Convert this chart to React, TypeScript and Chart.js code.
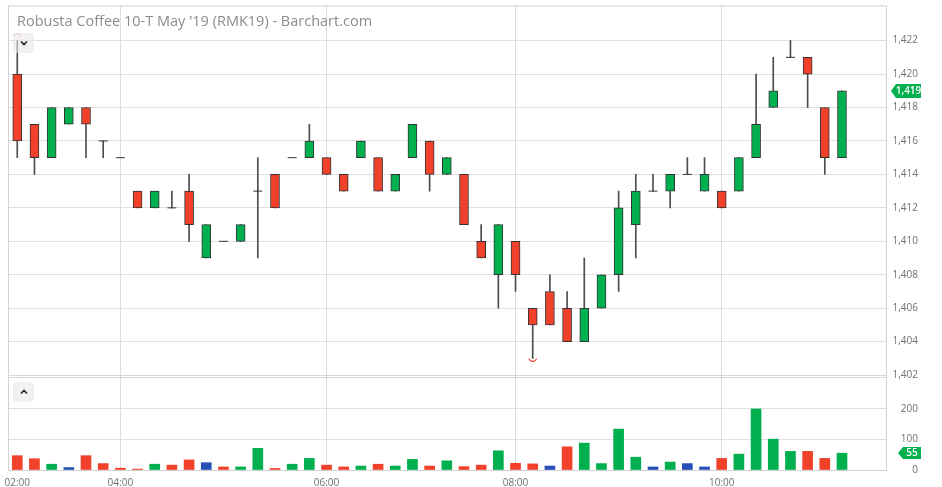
import React, { useEffect, useRef } from "react";
import { Chart, registerables } from "chart.js";

Chart.register(...registerables);

const TITLE = "Robusta Coffee 10-T May '19 (RMK19) - Barchart.com";

const OPEN = [1420, 1417, 1415, 1417, 1418, 1416, 1415, 1413, 1412, 1412, 1413, 1409, 1410, 1410, 1413, 1414, 1415, 1415, 1415, 1414, 1415, 1415, 1413, 1415, 1416, 1414, 1414, 1410, 1408, 1410, 1406, 1407, 1406, 1404, 1406, 1408, 1411, 1413, 1413, 1414, 1413, 1413, 1413, 1415, 1418, 1421, 1421, 1418, 1415];
const HIGH = [1422, 1417, 1418, 1418, 1418, 1416, 1415, 1413, 1413, 1413, 1414, 1411, 1410, 1411, 1415, 1414, 1415, 1417, 1415, 1414, 1416, 1415, 1414, 1417, 1416, 1415, 1414, 1411, 1411, 1410, 1406, 1408, 1407, 1409, 1408, 1413, 1414, 1414, 1414, 1415, 1415, 1413, 1415, 1420, 1421, 1422, 1421, 1418, 1419];
const LOW = [1415, 1414, 1415, 1417, 1415, 1415, 1415, 1412, 1412, 1412, 1410, 1409, 1410, 1410, 1409, 1412, 1415, 1415, 1414, 1413, 1415, 1413, 1413, 1415, 1413, 1414, 1411, 1409, 1406, 1407, 1403, 1405, 1404, 1404, 1406, 1407, 1409, 1413, 1412, 1414, 1413, 1412, 1413, 1415, 1418, 1421, 1418, 1414, 1415];
const CLOSE = [1416, 1415, 1418, 1418, 1417, 1416, 1415, 1412, 1413, 1412, 1411, 1411, 1410, 1411, 1413, 1412, 1415, 1416, 1414, 1413, 1416, 1413, 1414, 1417, 1414, 1415, 1411, 1409, 1411, 1408, 1405, 1405, 1404, 1406, 1408, 1412, 1413, 1413, 1414, 1414, 1414, 1412, 1415, 1417, 1419, 1421, 1420, 1415, 1419];
const VOLUME = [47, 37, 19, 8, 47, 21, 6, 3, 19, 16, 33, 24, 10, 10, 71, 5, 19, 38, 16, 10, 13, 19, 13, 35, 13, 30, 11, 16, 63, 22, 20, 13, 76, 88, 21, 134, 42, 10, 26, 21, 10, 38, 52, 200, 101, 61, 61, 38, 55];
const PREV_SESSION_CLOSE = 1417;

const TIME_TICK_INDEX = [0, 6, 18, 29, 41];
const TIME_TICK_LABELS = ["02:00", "04:00", "06:00", "08:00", "10:00"];
const PRICE_TICKS = [1402, 1404, 1406, 1408, 1410, 1412, 1414, 1416, 1418, 1420, 1422];
const VOLUME_TICKS = [0, 100, 200];

const PRICE_MIN = 1402;
const PRICE_MAX = 1424.1;
const VOLUME_MAX = 311;
const X_MIN = -0.54;
const X_MAX = 50.62;

const UP = "#00b04f";
const DOWN = "#f1412a";
const FLAT = "#2550b8";
const EDGE = "#333333";
const WICK = "#4d4d4d";
const GRID = "#e0e0e0";
const FRAME = "#d2d2d2";
const LABEL = "#707070";
const FONT = '"Open Sans", sans-serif';

const fmt = (v: number) => v.toLocaleString("en-US");

const noPad = (s: any) => {
  s.paddingTop = 0;
  s.paddingBottom = 0;
  s.paddingLeft = 0;
  s.paddingRight = 0;
};

const overlayPlugin = {
  id: "overlay",
  afterDraw(chart: any) {
    const { ctx, chartArea } = chart;
    const ys = chart.scales.y;
    const yv = chart.scales.yv;
    const xs = chart.scales.x;
    ctx.save();
    // frame
    ctx.strokeStyle = FRAME;
    ctx.lineWidth = 1;
    ctx.strokeRect(chartArea.left + 0.5, chartArea.top + 0.5, chartArea.right - chartArea.left - 1, chartArea.bottom - chartArea.top);
    // panel separator
    const sep = Math.round(ys.bottom);
    ctx.strokeStyle = "#d8d8d8";
    ctx.beginPath();
    ctx.moveTo(chartArea.left, sep + 0.5);
    ctx.lineTo(chartArea.right, sep + 0.5);
    ctx.moveTo(chartArea.left, sep + 2.5);
    ctx.lineTo(chartArea.right, sep + 2.5);
    ctx.stroke();

    // title
    ctx.fillStyle = "#8c8c8c";
    ctx.font = `14.5px ${FONT}`;
    ctx.textAlign = "left";
    ctx.textBaseline = "alphabetic";
    ctx.fillText(TITLE, 17, 26);

    // high / low markers
    let hi = 0, lo = 0;
    HIGH.forEach((v, i) => { if (v > HIGH[hi]) hi = i; });
    LOW.forEach((v, i) => { if (v < LOW[lo]) lo = i; });
    ctx.strokeStyle = "rgba(241,65,42,0.4)";
    ctx.lineWidth = 1.2;
    ctx.beginPath();
    ctx.arc(xs.getPixelForValue(hi), ys.getPixelForValue(HIGH[hi]) - 3, 4, Math.PI * 1.1, Math.PI * 1.9);
    ctx.stroke();
    ctx.strokeStyle = "#f1412a";
    ctx.beginPath();
    ctx.arc(xs.getPixelForValue(lo), ys.getPixelForValue(LOW[lo]) - 1, 4, Math.PI * 0.1, Math.PI * 0.9);
    ctx.stroke();

    // last price tag
    const n = CLOSE.length;
    const last = CLOSE[n - 1];
    const py = Math.round(ys.getPixelForValue(last));
    ctx.fillStyle = last >= CLOSE[n - 2] ? UP : DOWN;
    ctx.beginPath();
    ctx.moveTo(891, py);
    ctx.lineTo(896, py - 7);
    ctx.lineTo(921, py - 7);
    ctx.lineTo(921, py + 7);
    ctx.lineTo(896, py + 7);
    ctx.closePath();
    ctx.fill();
    ctx.fillStyle = "#ffffff";
    ctx.font = `600 10px ${FONT}`;
    ctx.textAlign = "center";
    ctx.textBaseline = "middle";
    ctx.fillText(fmt(last), 908.5, py + 0.5);

    // last volume tag
    const lv = VOLUME[n - 1];
    const vy = Math.round(yv.getPixelForValue(lv));
    ctx.fillStyle = UP;
    ctx.beginPath();
    ctx.moveTo(898, vy);
    ctx.lineTo(903, vy - 6);
    ctx.lineTo(921, vy - 6);
    ctx.lineTo(921, vy + 6);
    ctx.lineTo(903, vy + 6);
    ctx.closePath();
    ctx.fill();
    ctx.fillStyle = "#ffffff";
    ctx.fillText(String(lv), 912, vy + 0.5);
    ctx.restore();
  },
};

function Chevron({ up }: { up?: boolean }) {
  return (
    <svg width="8" height="6" viewBox="0 0 8 6" style={{ display: "block" }}>
      <path d={up ? "M1 4.5 L4 1.5 L7 4.5" : "M1 1.5 L4 4.5 L7 1.5"} fill="none" stroke="#222" strokeWidth="1.6" />
    </svg>
  );
}

const btnStyle: React.CSSProperties = {
  position: "absolute",
  left: 13,
  width: 21,
  height: 20,
  borderRadius: 3,
  background: "rgba(232,232,232,0.6)",
  display: "flex",
  alignItems: "center",
  justifyContent: "center",
};

export default function App() {
  const ref = useRef<HTMLCanvasElement | null>(null);

  useEffect(() => {
    if (!ref.current) return;
    Chart.defaults.font.family = FONT;
    const idx = OPEN.map((_, i) => i);

    const wickData = idx.filter(i => HIGH[i] > LOW[i]).map(i => ({ x: i, y: [LOW[i], HIGH[i]] }));
    const bodyIdx = idx.filter(i => OPEN[i] !== CLOSE[i]);
    const bodyData = bodyIdx.map(i => ({ x: i, y: [Math.min(OPEN[i], CLOSE[i]), Math.max(OPEN[i], CLOSE[i])] }));
    const bodyColors = bodyIdx.map(i => (CLOSE[i] > OPEN[i] ? UP : DOWN));
    const dojiData = idx.filter(i => OPEN[i] === CLOSE[i]).map(i => ({ x: i, y: OPEN[i] }));
    const volData = idx.map(i => ({ x: i, y: VOLUME[i] }));
    const volColors = idx.map(i => {
      const prev = i === 0 ? PREV_SESSION_CLOSE : CLOSE[i - 1];
      return CLOSE[i] > prev ? UP : CLOSE[i] < prev ? DOWN : FLAT;
    });

    const chart = new Chart(ref.current, {
      type: "bar",
      data: {
        datasets: [
          {
            type: "bar",
            data: volData as any,
            xAxisID: "x",
            yAxisID: "yv",
            backgroundColor: volColors,
            barThickness: 10,
            grouped: false,
            order: 4,
          } as any,
          {
            type: "bar",
            data: wickData as any,
            xAxisID: "x",
            yAxisID: "y",
            backgroundColor: WICK,
            barThickness: 1,
            grouped: false,
            order: 3,
          } as any,
          {
            type: "bar",
            data: bodyData as any,
            xAxisID: "x",
            yAxisID: "y",
            backgroundColor: bodyColors,
            borderColor: EDGE,
            borderWidth: 1,
            borderSkipped: false,
            barThickness: 9,
            grouped: false,
            order: 2,
          } as any,
          {
            type: "line",
            data: dojiData as any,
            xAxisID: "x",
            yAxisID: "y",
            showLine: false,
            pointStyle: "line",
            pointRadius: 4.5,
            pointBorderColor: EDGE,
            pointBorderWidth: 1,
            order: 1,
          } as any,
        ],
      },
      options: {
        responsive: false,
        animation: false,
        devicePixelRatio: 1,
        layout: { padding: { left: 8, top: 5, right: 24, bottom: 0 } },
        plugins: { legend: { display: false }, tooltip: { enabled: false } },
        scales: {
          x: {
            type: "linear",
            min: X_MIN,
            max: X_MAX,
            offset: false,
            grid: {
              offset: false,
              drawTicks: false,
              color: (c: any) => (c.index === 0 ? "rgba(0,0,0,0)" : "#dcdcdc"),
            },
            border: { display: false },
            afterBuildTicks: (s: any) => {
              s.ticks = TIME_TICK_INDEX.map(v => ({ value: v }));
            },
            afterFit: (s: any) => {
              s.height = 17;
              noPad(s);
            },
            ticks: {
              autoSkip: false,
              maxRotation: 0,
              padding: 7,
              color: LABEL,
              font: { size: 10, family: FONT },
              callback: (_v: any, i: number) => TIME_TICK_LABELS[i],
            },
          },
          y: {
            type: "linear",
            position: "right",
            stack: "panes",
            stackWeight: 370,
            min: PRICE_MIN,
            max: PRICE_MAX,
            beginAtZero: false,
            grid: { color: GRID, drawTicks: false },
            border: { display: false },
            afterBuildTicks: (s: any) => {
              s.ticks = PRICE_TICKS.map(v => ({ value: v }));
            },
            afterFit: (s: any) => {
              s.width = 31;
              noPad(s);
            },
            ticks: {
              crossAlign: "far",
              padding: 6,
              color: LABEL,
              font: { size: 10, family: FONT },
              callback: (v: any) => fmt(Number(v)),
            },
          },
          yv: {
            type: "linear",
            position: "right",
            stack: "panes",
            stackWeight: 95,
            min: 0,
            max: VOLUME_MAX,
            grid: { color: GRID, drawTicks: false },
            border: { display: false },
            afterBuildTicks: (s: any) => {
              s.ticks = VOLUME_TICKS.map(v => ({ value: v }));
            },
            afterFit: (s: any) => {
              s.width = 31;
              noPad(s);
            },
            ticks: {
              crossAlign: "far",
              padding: 6,
              color: LABEL,
              font: { size: 10, family: FONT },
              callback: (v: any) => fmt(Number(v)),
            },
          },
        },
      } as any,
      plugins: [overlayPlugin],
    });
    return () => chart.destroy();
  }, []);

  return (
    <div style={{ position: "fixed", left: 0, top: 0, width: 942, height: 487, background: "#fff" }}>
      <canvas ref={ref} width={942} height={487} style={{ width: 942, height: 487, display: "block" }} />
      <div style={{ ...btnStyle, top: 33 }}>
        <Chevron />
      </div>
      <div style={{ ...btnStyle, top: 382 }}>
        <Chevron up />
      </div>
    </div>
  );
}
